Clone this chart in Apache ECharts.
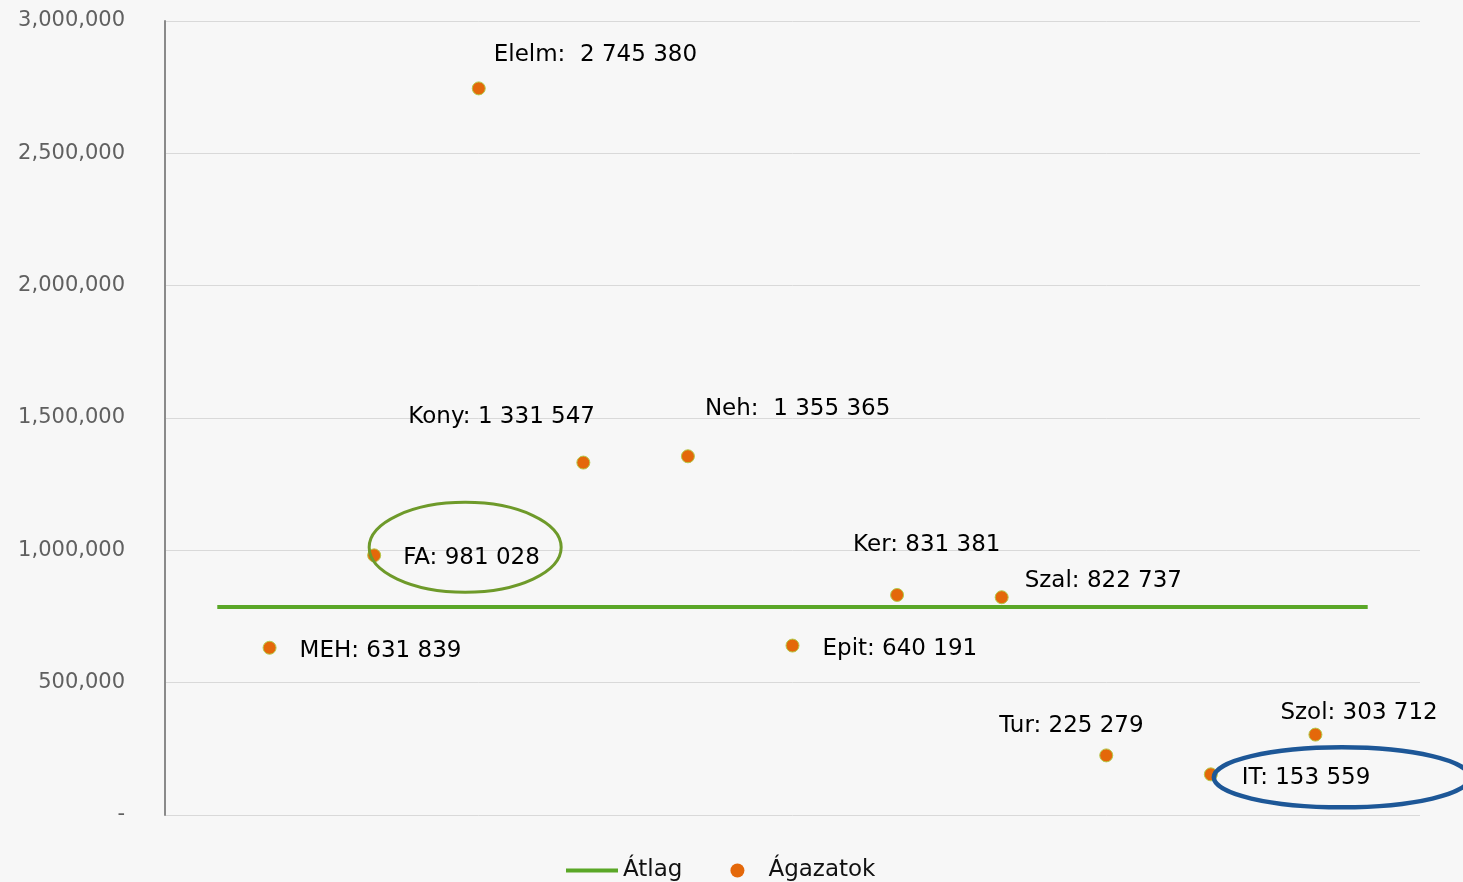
<!DOCTYPE html>
<html><head><meta charset="utf-8">
<script src="https://cdn.jsdelivr.net/npm/echarts@6/dist/echarts.min.js"></script>
<style>html,body{margin:0;padding:0;background:#f7f7f7}#c{width:1463px;height:882px}</style>
</head><body><div id="c"></div>
<script>
const names = ['MEH','FA','Elelm','Kony','Neh','Epit','Ker','Szal','Tur','IT','Szol'];
const values = [631839,981028,2745380,1331547,1355365,640191,831381,822737,225279,153559,303712];
const xPos = [1,2,3,4,5,6,7,8,9,10,11];
const avgValue = 786000;
const avgRange = [0.5, 11.5];
const yTicks = [0,500000,1000000,1500000,2000000,2500000,3000000];

// label placement (left edge dx, centre dy) in pixels relative to the point
const labelOffsets = {
  MEH:[30,3], FA:[29,3], Elelm:[15,-33], Kony:[-175,-46], Neh:[17,-47],
  Epit:[30,3], Ker:[-44,-50], Szal:[23,-16], Tur:[-107,-29], IT:[31,4], Szol:[-35,-22]
};
const wideGap = {Elelm:true, Neh:true};

function fmtSpace(v){ return String(v).replace(/\B(?=(\d{3})+(?!\d))/g,' '); }
function fmtComma(v){ return v===0 ? '-' : String(v).replace(/\B(?=(\d{3})+(?!\d))/g,','); }

const chart = echarts.init(document.getElementById('c'));
const pts = names.map((n,i)=>({
  value:[xPos[i], values[i]], name:n,
  label:{offset:[labelOffsets[n][0], labelOffsets[n][1]]}
}));
const option = {
  backgroundColor:'#f7f7f7',
  animation:false,
  grid:{left:165,right:43,top:21,bottom:67},
  xAxis:{type:'value',min:0,max:12,show:false,splitLine:{show:false}},
  yAxis:{type:'value',min:0,max:3000000,interval:500000,
    axisLine:{show:true,lineStyle:{color:'#8a8a8a',width:2}},
    axisTick:{show:false},
    splitLine:{lineStyle:{color:'#d9d9d9',width:1}},
    axisLabel:{formatter:fmtComma,color:'#606060',fontSize:21,fontFamily:'DejaVu Sans',margin:40}
  },
  legend:{bottom:-5,left:561,itemGap:48,itemWidth:52,itemHeight:14,
    textStyle:{fontSize:23,color:'#111',fontFamily:'DejaVu Sans'},
    data:[{name:'Átlag',icon:'path://M0,0 L52,0 L52,4 L0,4 Z'},{name:'Ágazatok',icon:'circle',itemStyle:{borderWidth:0}}]},
  series:[
    {name:'Átlag',type:'line',data:[[avgRange[0],avgValue],[avgRange[1],avgValue]],
      showSymbol:false,symbol:'none',lineStyle:{color:'#5aa727',width:4},itemStyle:{color:'#5aa727'},z:2},
    {name:'Ágazatok',type:'scatter',data:pts,symbolSize:13,
      itemStyle:{color:'#e4680a',borderColor:'#b5c94a',borderWidth:1,opacity:1},
      label:{show:true,position:'inside',align:'left',verticalAlign:'middle',
        fontSize:23,color:'#000',fontFamily:'DejaVu Sans',textBorderWidth:0,
        formatter:p=>p.name+(wideGap[p.name]?':  ':': ')+fmtSpace(p.value[1])},
      z:3}
  ]
};
chart.setOption(option);

function px(i){ return chart.convertToPixel({gridIndex:0},[xPos[i],values[i]]); }
const fa = px(names.indexOf('FA'));
const it = px(names.indexOf('IT'));
chart.setOption({graphic:[
  {type:'ellipse',shape:{cx:fa[0]+91,cy:fa[1]-8,rx:96,ry:45},style:{fill:'none',stroke:'#6e9a2a',lineWidth:3},z:10},
  {type:'ellipse',shape:{cx:it[0]+131,cy:it[1]+3,rx:128,ry:30},style:{fill:'none',stroke:'#1d5797',lineWidth:4.5},z:10}
]});
</script></body></html>
